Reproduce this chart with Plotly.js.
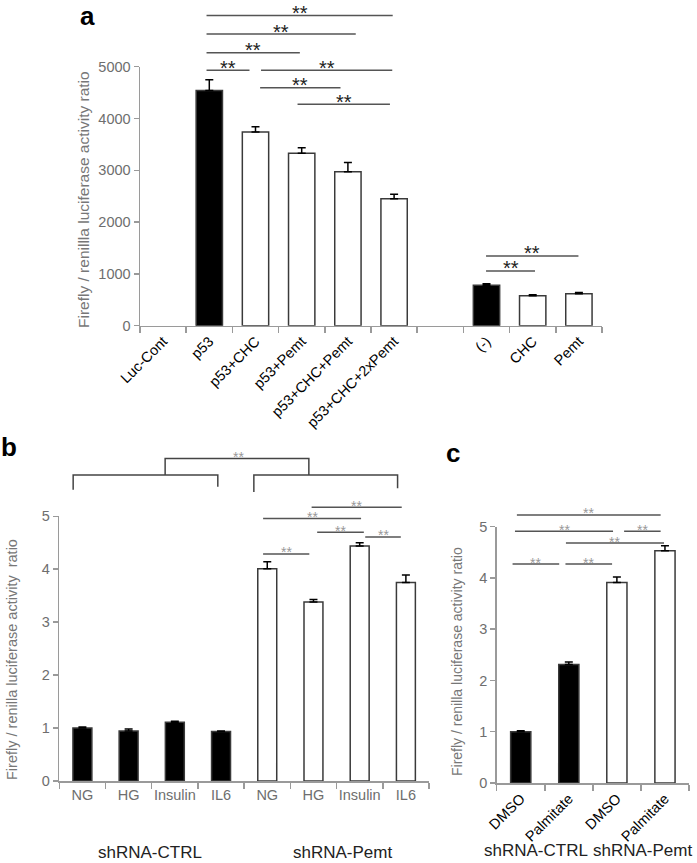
<!DOCTYPE html>
<html><head><meta charset="utf-8">
<script src="https://cdn.plot.ly/plotly-3.0.1.min.js"></script>
<style>html,body{margin:0;padding:0;background:#fff}</style>
</head><body><div id="chart" style="width:697px;height:863px"></div>
<script>
// ---------- Panel a ----------
const aCategories = ['Luc-Cont','p53','p53+CHC','p53+Pemt','p53+CHC+Pemt','p53+CHC+2xPemt','','(-)','CHC','Pemt'];
const aValues = [null,4540,3740,3330,2970,2450,null,780,580,615];
const aErrors = [null,210,100,105,180,90,null,30,18,25];
const aFilled = [false,true,false,false,false,false,false,true,false,false];
// significance: [from index, to index, level in data units]
const aSig = [[0.94,4.97,5990],[0.94,4.17,5630],[0.94,2.96,5270],[0.94,1.87,4930],[2.12,4.96,4930],[2.10,3.84,4595],[2.91,4.91,4275],[6.99,8.99,1346],[6.99,8.05,1056]];
const aYMax = 5000;

// ---------- Panel b ----------
const bCategories = ['NG','HG','Insulin','IL6','NG','HG','Insulin','IL6'];
const bValues = [1.00,0.945,1.11,0.935,4.01,3.38,4.44,3.75];
const bErrors = [0.02,0.035,0.02,0.01,0.13,0.05,0.06,0.14];
const bFilled = [true,true,true,true,false,false,false,false];
const bGroups = ['shRNA-CTRL','shRNA-Pemt'];
const bSig = [[3.91,4.91,4.29],[3.91,6.03,4.96],[5.08,6.09,4.70],[6.12,6.89,4.61],[4.96,6.91,5.17]];
const bYMax = 5;

// ---------- Panel c ----------
const cCategories = ['DMSO','Palmitate','DMSO','Palmitate'];
const cValues = [1.00,2.31,3.91,4.53];
const cErrors = [0.02,0.05,0.11,0.10];
const cFilled = [true,true,false,false];
const cGroups = ['shRNA-CTRL','shRNA-Pemt'];
const cSig = [[-0.08,2.91,5.23],[-0.12,1.92,4.91],[2.15,2.91,4.91],[0.94,2.98,4.68],[-0.17,0.80,4.27],[0.93,1.90,4.27]];
const cYMax = 5;

const FONT = 'Liberation Sans, Arial, Helvetica, sans-serif';
const AXC = '#9a9a9a';
const TICKC = '#6e6e6e';
const H = 863, W = 697;
const idx = arr => arr.map((_, i) => i);
const bounds = n => Array.from({length: n + 1}, (_, i) => i - 0.5);

function barTrace(cats, vals, errs, filled, xa, ya, width) {
  return {
    type: 'bar', x: idx(cats), y: vals, xaxis: xa, yaxis: ya, width: width,
    marker: {color: filled.map(f => f ? '#000' : '#fff'), line: {color: '#3a3a3a', width: 1.5}},
    error_y: {type: 'data', symmetric: false, array: errs, arrayminus: errs.map(() => 0),
              color: '#000', thickness: 1.5, width: 4},
    hoverinfo: 'skip'
  };
}

const data = [
  barTrace(aCategories, aValues, aErrors, aFilled, 'x', 'y', 0.57),
  barTrace(bCategories, bValues, bErrors, bFilled, 'x2', 'y2', 0.41),
  barTrace(cCategories, cValues, cErrors, cFilled, 'x3', 'y3', 0.42)
];

function xAxis(cats, dom, anchor, angle, tfont) {
  return {
    domain: dom, anchor: anchor, range: [-0.5, cats.length - 0.5], fixedrange: true,
    tickmode: 'array', tickvals: idx(cats), ticktext: cats, ticks: '', tickangle: angle,
    tickfont: tfont, showline: true, linecolor: AXC, linewidth: 1.5, showgrid: false, zeroline: false,
    minor: {tickmode: 'array', tickvals: bounds(cats.length), ticks: 'outside', ticklen: 6, tickcolor: AXC, tickwidth: 1.5, showgrid: false}
  };
}
function yAxis(dom, anchor, max, dtick) {
  return {
    domain: dom, anchor: anchor, range: [0, max], dtick: dtick, fixedrange: true,
    ticks: 'outside', ticklen: 5, tickcolor: AXC, tickwidth: 1.5,
    showline: true, linecolor: AXC, linewidth: 1.5, showgrid: false, zeroline: false,
    tickfont: {family: FONT, size: 14.5, color: TICKC}
  };
}

const shapes = [], annotations = [];
function addSig(list, xa, ya, ymax, lineColor, starFont, shift) {
  list.forEach(([x0, x1, lvl]) => {
    const y = lvl / ymax;
    shapes.push({type: 'line', xref: xa, yref: ya + ' domain', x0: x0, x1: x1, y0: y, y1: y,
                 line: {color: lineColor, width: 1.5}});
    annotations.push({xref: xa, yref: ya + ' domain', x: (x0 + x1) / 2, y: y, text: '**',
                      showarrow: false, xanchor: 'center', yanchor: 'middle', yshift: shift, font: starFont});
  });
}
addSig(aSig, 'x', 'y', aYMax, '#555', {family: FONT, size: 20, color: '#222'}, 2.5);
addSig(bSig, 'x2', 'y2', bYMax, '#555', {family: FONT, size: 14, color: '#999'}, 1.5);
addSig(cSig, 'x3', 'y3', cYMax, '#555', {family: FONT, size: 14, color: '#999'}, 1.5);

// Brackets in panel b (group comparison)
function bracket(xa, ya, ymax, x0, x1, yTop, yLeg0, yLeg1) {
  shapes.push({type: 'path', xref: xa, yref: ya + ' domain',
    path: `M ${x0},${yLeg0 / ymax} L ${x0},${yTop / ymax} L ${x1},${yTop / ymax} L ${x1},${yLeg1 / ymax}`,
    line: {color: '#444', width: 1.5}});
}
bracket('x2', 'y2', bYMax, -0.2, 2.93, 5.78, 5.50, 5.56);
bracket('x2', 'y2', bYMax, 3.71, 6.82, 5.78, 5.46, 5.53);
bracket('x2', 'y2', bYMax, 1.79, 4.90, 6.09, 5.78, 5.78);
annotations.push({xref: 'x2', yref: 'y2 domain', x: 3.37, y: 6.09 / bYMax, text: '**', showarrow: false,
                  xanchor: 'center', yanchor: 'middle', yshift: 1.5, font: {family: FONT, size: 14, color: '#999'}});

// Group labels
bGroups.forEach((g, gi) => {
  annotations.push({xref: 'x2', yref: 'paper', x: gi === 0 ? 1.46 : 5.63, y: 1 - 852 / H, text: g,
    showarrow: false, xanchor: 'center', yanchor: 'middle', font: {family: FONT, size: 17, color: '#222'}});
});
cGroups.forEach((g, gi) => {
  annotations.push({xref: 'x3', yref: 'paper', x: gi === 0 ? 0.31 : 2.53, y: 1 - 850 / H, text: g,
    showarrow: false, xanchor: 'center', yanchor: 'middle', font: {family: FONT, size: 17, color: '#222'}});
});

// Panel letters
[['a', 87, 16], ['b', 9, 447], ['c', 453, 453]].forEach(([t, px, py]) => {
  annotations.push({xref: 'paper', yref: 'paper', x: px / W, y: 1 - py / H, text: '<b>' + t + '</b>',
    showarrow: false, xanchor: 'center', yanchor: 'middle', font: {family: FONT, size: 26, color: '#000'}});
});

// Y axis titles
[['Firefly / renillla luciferase activity ratio', 84, 200, 15.5],
 ['Firefly / renilla luciferase activity  ratio', 12, 660, 14.5],
 ['Firefly / renilla luciferase activity ratio', 457, 662, 14]].forEach(([t, px, py, s]) => {
  annotations.push({xref: 'paper', yref: 'paper', x: px / W, y: 1 - py / H, text: t, textangle: -90,
    showarrow: false, xanchor: 'center', yanchor: 'middle', font: {family: FONT, size: s, color: '#777'}});
});

const layout = {
  width: W, height: H, margin: {l: 0, r: 0, t: 0, b: 0},
  paper_bgcolor: '#fff', plot_bgcolor: 'rgba(0,0,0,0)', showlegend: false,
  font: {family: FONT},
  xaxis: xAxis(aCategories, [140 / W, 602 / W], 'y', -45, {family: FONT, size: 14.5, color: '#000'}),
  yaxis: yAxis([1 - 325.7 / H, 1 - 66.7 / H], 'x', aYMax, 1000),
  xaxis2: xAxis(bCategories, [59.3 / W, 429 / W], 'y2', 0, {family: FONT, size: 14.5, color: TICKC}),
  yaxis2: yAxis([1 - 781 / H, 1 - 516.3 / H], 'x2', bYMax, 1),
  xaxis3: xAxis(cCategories, [496.7 / W, 689 / W], 'y3', -45, {family: FONT, size: 14.5, color: '#000'}),
  yaxis3: yAxis([1 - 783 / H, 1 - 526.7 / H], 'x3', cYMax, 1),
  shapes: shapes, annotations: annotations
};

Plotly.newPlot('chart', data, layout, {staticPlot: true, displayModeBar: false});
</script></body></html>
